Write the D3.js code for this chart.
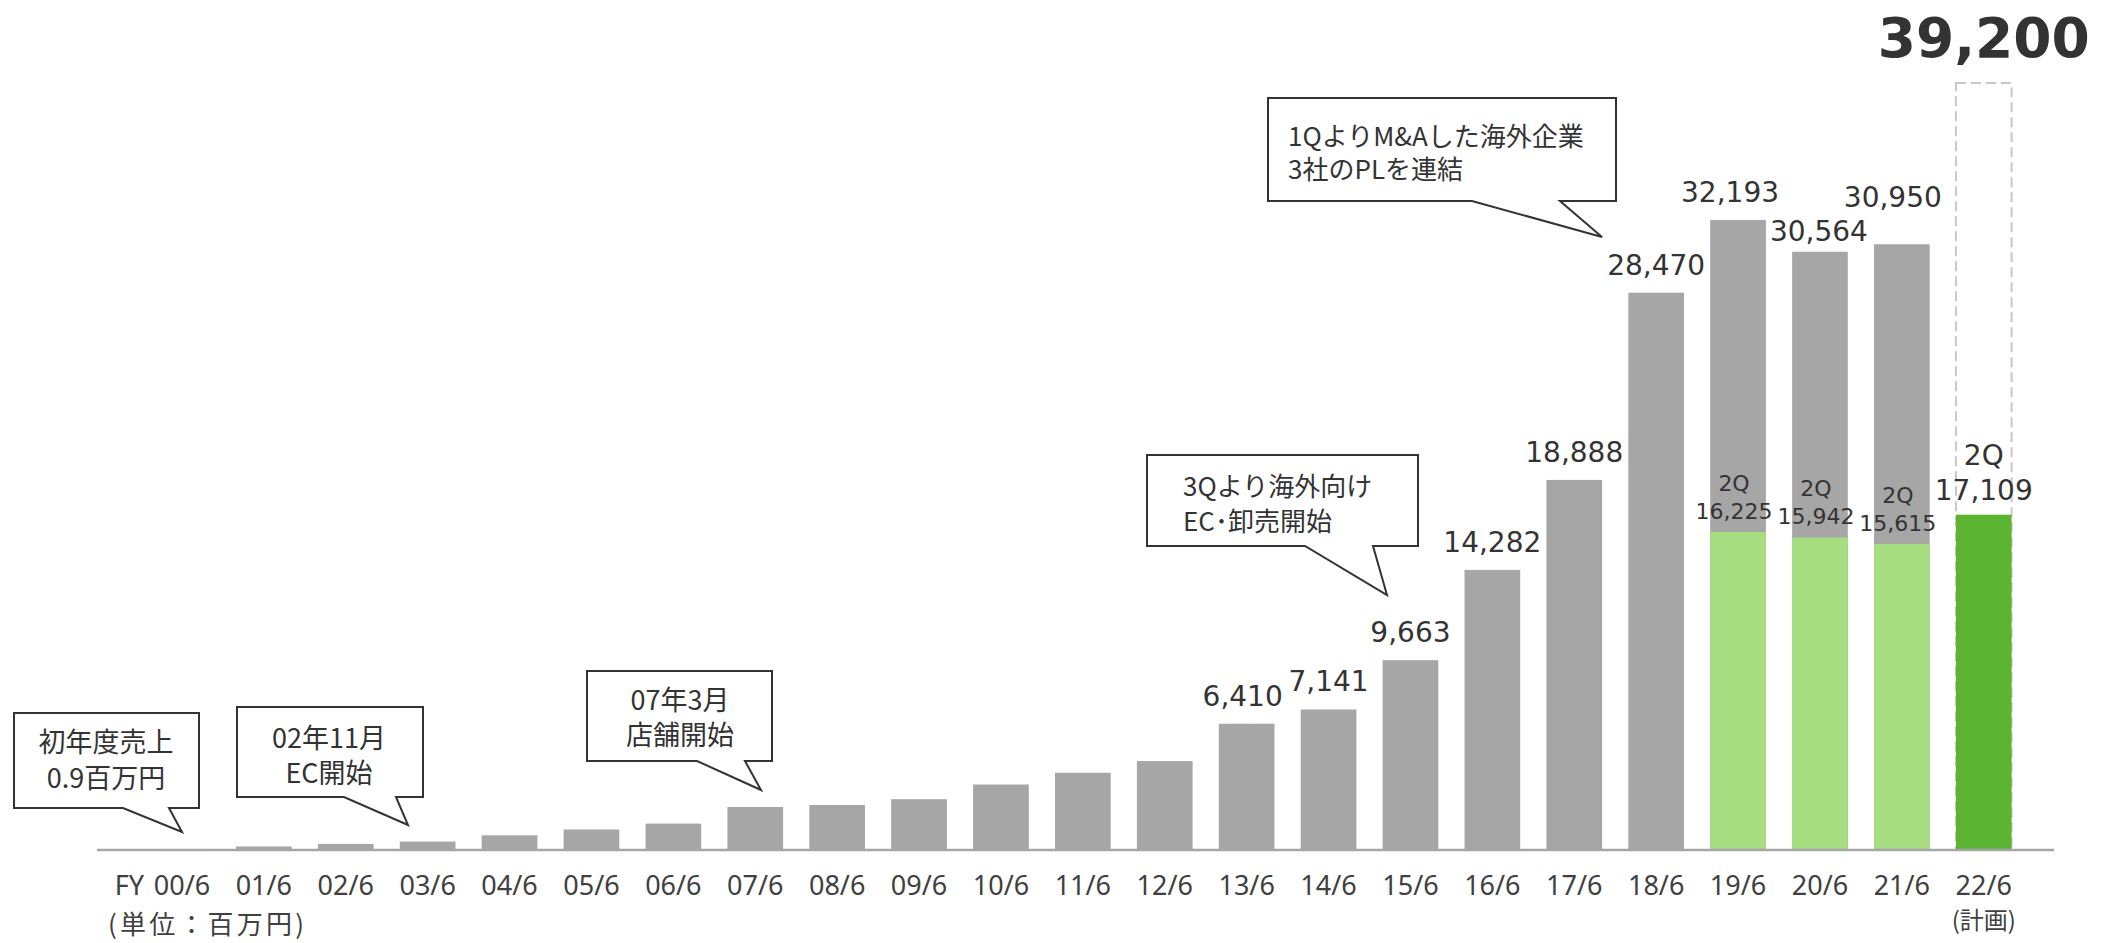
<!DOCTYPE html>
<html>
<head>
<meta charset="utf-8">
<script src="https://cdn.jsdelivr.net/npm/d3@7"></script>
<style>
  html, body { margin: 0; padding: 0; background: #ffffff; }
  svg { display: block; }
</style>
</head>
<body>
<svg id="chart" width="2112" height="943"></svg>
<script>
// Fiscal years (June year-end)
const categories = ["00/6","01/6","02/6","03/6","04/6","05/6","06/6","07/6","08/6","09/6","10/6","11/6",
                    "12/6","13/6","14/6","15/6","16/6","17/6","18/6","19/6","20/6","21/6","22/6"];
// Annual sales, 百万円 (22/6 is plan only)
const annualSales = [0.9, 130, 260, 380, 700, 1000, 1300, 2150, 2250, 2550, 3300, 3900,
                     4500, 6410, 7141, 9663, 14282, 18888, 28470, 32193, 30564, 30950, null];
// First-half (2Q cumulative) sales
const halfYears = ["19/6","20/6","21/6","22/6"];
const halfSales = [16225, 15942, 15615, 17109];
// Full-year plan
const planYear = "22/6";
const planSales = 39200;
// Years whose annual value is printed
const labeledFrom = "13/6";

const svg = d3.select("#chart");
const fontLatin = "'DejaVu Sans', Verdana, sans-serif";
const fontJP = "'Noto Sans CJK JP', 'Noto Sans', sans-serif";
const textColor = "#333333";

const baseY = 849;
const x = d3.scaleBand()
  .domain(categories)
  .range([141, 2024.7])
  .paddingInner(0.32)
  .paddingOuter(0.16);
const y = d3.scaleLinear()
  .domain([0, 40000])
  .range([baseY, baseY - 0.01954 * 40000]);

const cx = c => x(c) + x.bandwidth() / 2;

// Dashed outline for the full-year plan
svg.append("rect")
  .attr("x", x(planYear))
  .attr("y", y(planSales))
  .attr("width", x.bandwidth())
  .attr("height", y(0) - y(planSales))
  .attr("fill", "none")
  .attr("stroke", "#c8c8c8")
  .attr("stroke-width", 2)
  .attr("stroke-dasharray", "10,5");

// Annual sales bars
const annual = categories.map((c, i) => ({ c, v: annualSales[i] })).filter(d => d.v != null);
svg.append("g").selectAll("rect")
  .data(annual)
  .join("rect")
  .attr("x", d => x(d.c))
  .attr("y", d => y(d.v))
  .attr("width", x.bandwidth())
  .attr("height", d => y(0) - y(d.v))
  .attr("fill", "#a6a6a6");

// First-half bars
const half = halfYears.map((c, i) => ({ c, v: halfSales[i] }));
svg.append("g").selectAll("rect")
  .data(half)
  .join("rect")
  .attr("x", d => x(d.c))
  .attr("y", d => y(d.v))
  .attr("width", x.bandwidth())
  .attr("height", d => y(0) - y(d.v))
  .attr("fill", d => d.c === planYear ? "#5bb432" : "#a6dd80");

// Baseline
svg.append("line")
  .attr("x1", 97).attr("x2", 2054)
  .attr("y1", baseY + 1).attr("y2", baseY + 1)
  .attr("stroke", "#a6a6a6")
  .attr("stroke-width", 2.3);

// Annual value labels
const fmt = d3.format(",");
const labelShift = { "19/6": [-8, 0], "20/6": [-1, 7], "21/6": [-9, -19], "13/6": [-4, 0] };
const labeled = annual.filter(d => categories.indexOf(d.c) >= categories.indexOf(labeledFrom));
svg.append("g").selectAll("text")
  .data(labeled)
  .join("text")
  .attr("x", d => cx(d.c) + (labelShift[d.c] ? labelShift[d.c][0] : 0))
  .attr("y", d => y(d.v) - 18 + (labelShift[d.c] ? labelShift[d.c][1] : 0))
  .attr("text-anchor", "middle")
  .attr("font-family", fontLatin)
  .attr("font-size", 28)
  .attr("fill", textColor)
  .text(d => fmt(d.v));

// First-half labels inside the grey bars
const halfActual = half.filter(d => d.c !== planYear);
const halfLbl = svg.append("g").selectAll("g")
  .data(halfActual)
  .join("g")
  .attr("font-family", fontLatin)
  .attr("font-size", 22)
  .attr("fill", textColor)
  .attr("text-anchor", "middle");
halfLbl.append("text")
  .attr("x", d => cx(d.c) - 4)
  .attr("y", d => y(d.v) - 41)
  .text("2Q");
halfLbl.append("text")
  .attr("x", d => cx(d.c) - 4)
  .attr("y", d => y(d.v) - 13)
  .text(d => fmt(d.v));

// First-half label for the plan year
const planHalf = half.find(d => d.c === planYear);
svg.append("text")
  .attr("x", cx(planYear)).attr("y", y(planHalf.v) - 50)
  .attr("text-anchor", "middle").attr("font-family", fontLatin)
  .attr("font-size", 28).attr("fill", textColor)
  .text("2Q");
svg.append("text")
  .attr("x", cx(planYear)).attr("y", y(planHalf.v) - 15)
  .attr("text-anchor", "middle").attr("font-family", fontLatin)
  .attr("font-size", 28).attr("fill", textColor)
  .text(fmt(planHalf.v));

// Full-year plan value
svg.append("text")
  .attr("x", cx(planYear)).attr("y", y(planSales) - 26)
  .attr("text-anchor", "middle").attr("font-family", fontLatin)
  .attr("font-size", 55).attr("font-weight", "bold").attr("fill", textColor)
  .text(fmt(planSales));

// Category axis
const axis = svg.append("g")
  .attr("transform", `translate(0,${baseY})`)
  .call(d3.axisBottom(x).tickSize(0).tickPadding(27));
axis.select(".domain").remove();
axis.selectAll("text")
  .attr("font-family", "'Noto Sans', sans-serif")
  .attr("font-size", 27)
  .attr("fill", "#404040");

svg.append("text")
  .attr("x", cx(categories[0]) - 38).attr("y", baseY + 46)
  .attr("text-anchor", "end")
  .attr("font-family", "'Noto Sans', sans-serif")
  .attr("font-size", 27).attr("fill", "#404040")
  .text("FY");

svg.append("text")
  .attr("x", cx(planYear)).attr("y", 929)
  .attr("text-anchor", "middle").attr("font-family", fontJP)
  .attr("font-size", 24).attr("fill", "#404040")
  .text("(計画)");

svg.append("text")
  .attr("x", 108).attr("y", 934)
  .attr("font-family", fontJP)
  .attr("font-size", 26).attr("fill", "#404040")
  .attr("textLength", 196).attr("lengthAdjust", "spacing")
  .text("(単位：百万円)");

// Speech-bubble annotations
const callouts = [
  { box: [14, 713, 185, 95], tail: [123, 169], tip: [182, 832], anchor: "middle", tx: 106,
    lines: ["初年度売上", "0.9百万円"], ly: [752, 788], size: 27 },
  { box: [237, 707, 186, 90], tail: [344, 396], tip: [408, 825], anchor: "middle", tx: 329,
    lines: ["02年11月", "EC開始"], ly: [748, 783], size: 27 },
  { box: [587, 671, 185, 90], tail: [697, 745], tip: [761, 790], anchor: "middle", tx: 680,
    lines: ["07年3月", "店舗開始"], ly: [710, 745], size: 27 },
  { box: [1147, 455, 271, 91], tail: [1305, 1373], tip: [1387, 595], anchor: "start", tx: 1183,
    lines: ["3Qより海外向け", "EC･卸売開始"], ly: [496, 531], size: 26 },
  { box: [1268, 98, 348, 103], tail: [1472, 1560], tip: [1602, 237], anchor: "start", tx: 1288,
    lines: ["1QよりM&Aした海外企業", "3社のPLを連結"], ly: [146, 179], size: 26 }
];

const co = svg.append("g").selectAll("g").data(callouts).join("g");
co.append("path")
  .attr("d", d => {
    const [bx, by, bw, bh] = d.box;
    const p = d3.path();
    p.moveTo(bx, by);
    p.lineTo(bx + bw, by);
    p.lineTo(bx + bw, by + bh);
    p.lineTo(d.tail[1], by + bh);
    p.lineTo(d.tip[0], d.tip[1]);
    p.lineTo(d.tail[0], by + bh);
    p.lineTo(bx, by + bh);
    p.closePath();
    return p.toString();
  })
  .attr("fill", "#ffffff")
  .attr("stroke", "#333333")
  .attr("stroke-width", 2)
  .attr("stroke-linejoin", "miter");
co.each(function(d) {
  d3.select(this).selectAll("text")
    .data(d.lines)
    .join("text")
    .attr("x", d.tx)
    .attr("y", (t, i) => d.ly[i])
    .attr("text-anchor", d.anchor)
    .attr("font-family", fontJP)
    .attr("font-size", d.size)
    .attr("fill", textColor)
    .text(t => t);
});
</script>
</body>
</html>
